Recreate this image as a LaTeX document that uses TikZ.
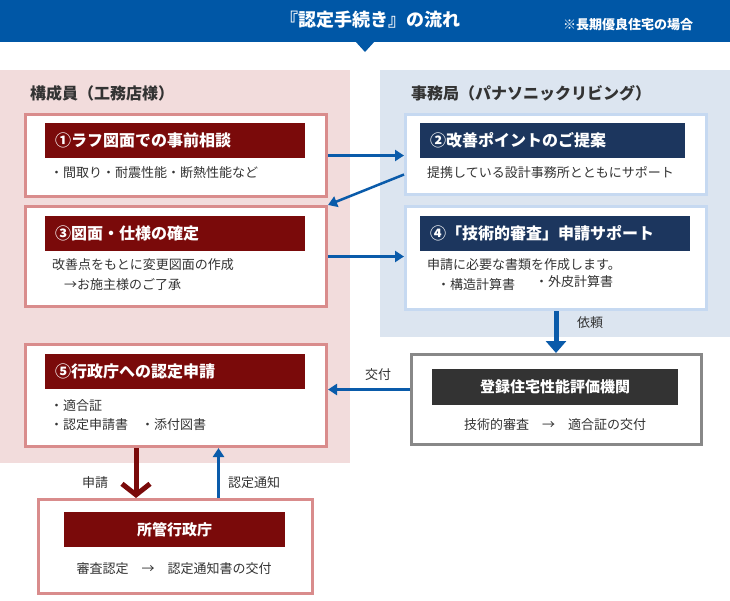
\documentclass[tikz,border=0pt]{standalone}
\usepackage{fontspec}
\setmainfont{Noto Sans CJK JP}
\usetikzlibrary{arrows.meta}

\definecolor{bannerblue}{HTML}{0057A6}
\definecolor{pinkbg}{HTML}{F2DCDC}
\definecolor{bluebg}{HTML}{DCE5F0}
\definecolor{pinkline}{HTML}{D98C8C}
\definecolor{blueline}{HTML}{C6D9F1}
\definecolor{headred}{HTML}{7A0A0A}
\definecolor{headnavy}{HTML}{1C365E}
\definecolor{grayline}{HTML}{888888}
\definecolor{headdark}{HTML}{333333}
\definecolor{arrowblue}{HTML}{0A5BAA}
\definecolor{textgray}{HTML}{333333}

\tikzset{
  pinkbox/.style={draw=pinkline, line width=3pt, fill=white, anchor=north west, inner sep=0pt},
  bluebox/.style={pinkbox, draw=blueline},
  graybox/.style={pinkbox, draw=grayline},
  headbox/.style={anchor=north west, text=white, minimum height=35pt, inner xsep=10pt, inner ysep=0pt,
    align=left, font=\bfseries\fontsize{16}{18}\selectfont},
  redhead/.style={headbox, fill=headred},
  navyhead/.style={headbox, fill=headnavy},
  bodytext/.style={anchor=west, text=textgray, inner sep=0pt, font=\fontsize{13}{15}\selectfont},
  paneltitle/.style={anchor=west, text=textgray, inner sep=0pt, font=\bfseries\fontsize{16}{18}\selectfont},
  barrow/.style={draw=arrowblue, line width=2.5pt, -{Triangle[length=9pt,width=11pt]}},
}

\begin{document}
\begin{tikzpicture}[x=1pt, y=-1pt]
  \useasboundingbox (0,0) rectangle (730,600);

  % banner
  \fill[bannerblue] (0,0) rectangle (730,42);
  \fill[bannerblue] (355,41) -- (375,41) -- (365,52) -- cycle;
  \node[text=white, font=\bfseries\fontsize{18}{20}\selectfont] (title) at (370,20) {『認定手続き』の流れ};
  \node[anchor=west, text=white, inner sep=0pt, font=\bfseries\fontsize{13}{15}\selectfont] (note) at (563,25) {※長期優良住宅の場合};

  % panels
  \fill[pinkbg] (0,70) rectangle (350,463);
  \fill[bluebg] (380,70) rectangle (730,337);
  \node[paneltitle] (left) at (30,93) {構成員（工務店様）};
  \node[paneltitle] (right) at (411,93) {事務局（パナソニックリビング）};

  % step boxes
  \node[pinkbox, minimum width=301pt, minimum height=82pt] (b1) at (24,113) {};
  \node[redhead, text width=240pt] (h1) at (45,123) {①ラフ図面での事前相談};
  \node[bodytext] (t1) at (50,173) {・間取り・耐震性能・断熱性能など};

  \node[bluebox, minimum width=301pt, minimum height=80pt] (b2) at (404,113) {};
  \node[navyhead, text width=245pt] (h2) at (420,123) {②改善ポイントのご提案};
  \node[bodytext] (t2) at (427,173) {提携している設計事務所とともにサポート};

  \node[pinkbox, minimum width=301pt, minimum height=100pt] (b3) at (24,205) {};
  \node[redhead, text width=240pt] (h3) at (45,216) {③図面・仕様の確定};
  \node[bodytext] (t3a) at (52,265) {改善点をもとに変更図面の作成};
  \node[bodytext] (t3b) at (64,285) {→お施主様のご了承};

  \node[bluebox, minimum width=301pt, minimum height=103pt] (b4) at (404,205) {};
  \node[navyhead, text width=250pt] (h4) at (420,216) {④「技術的審査」申請サポート};
  \node[bodytext] (t4a) at (427,265) {申請に必要な書類を作成します。};
  \node[bodytext] (t4b) at (437,285) {・構造計算書};
  \node[bodytext] (t4c) at (535,282) {・外皮計算書};

  \node[pinkbox, minimum width=301pt, minimum height=102pt] (b5) at (24,343) {};
  \node[redhead, text width=240pt] (h5) at (45,354) {⑤行政庁への認定申請};
  \node[bodytext] (t5a) at (50,406) {・適合証};
  \node[bodytext] (t5b) at (50,425) {・認定申請書　・添付図書};

  % outside bodies
  \node[graybox, minimum width=290pt, minimum height=90pt] (agency) at (410,353) {};
  \node[headbox, fill=headdark, align=center, minimum width=246pt, minimum height=36pt,
        font=\bfseries\fontsize{15}{17}\selectfont] (ha) at (432,369) {登録住宅性能評価機関};
  \node[bodytext, anchor=center] (ta) at (555,425) {技術的審査　→　適合証の交付};

  \node[pinkbox, minimum width=274pt, minimum height=94pt] (office) at (37,498) {};
  \node[redhead, align=center, minimum width=221pt,
        font=\bfseries\fontsize{15}{17}\selectfont] (ho) at (64,512) {所管行政庁};
  \node[bodytext, anchor=center] (to) at (174,569) {審査認定　→　認定通知書の交付};

  % connectors
  \draw[barrow] (b1.east) -- (b1.east -| b2.west);
  \draw[barrow] ([yshift=-20pt]b2.west) -- (b3.north east);
  \draw[barrow] (b3.east) -- (b3.east -| b4.west);
  \draw[draw=arrowblue, line width=5pt, -{Triangle[length=12pt,width=20pt]}]
    (b4.south) -- (b4.south |- agency.north);
  \node[bodytext] (irai) at (577,323) {依頼};
  \draw[barrow] ([yshift=10pt]agency.west) -- ([yshift=10pt]agency.west -| b5.east);
  \node[bodytext] (kofu) at (365,375) {交付};
  \draw[draw=headred, line width=5pt, -{Straight Barb[length=11pt,width=28pt,line width=5pt]}]
    ([xshift=-40pt]b5.south) -- ([xshift=-40pt]b5.south |- office.north);
  \node[bodytext] (shinsei) at (82,483) {申請};
  \draw[barrow] ([xshift=43pt]office.north) -- ([xshift=43pt]office.north |- b5.south);
  \node[bodytext] (tsuchi) at (228,483) {認定通知};
\end{tikzpicture}
\end{document}
